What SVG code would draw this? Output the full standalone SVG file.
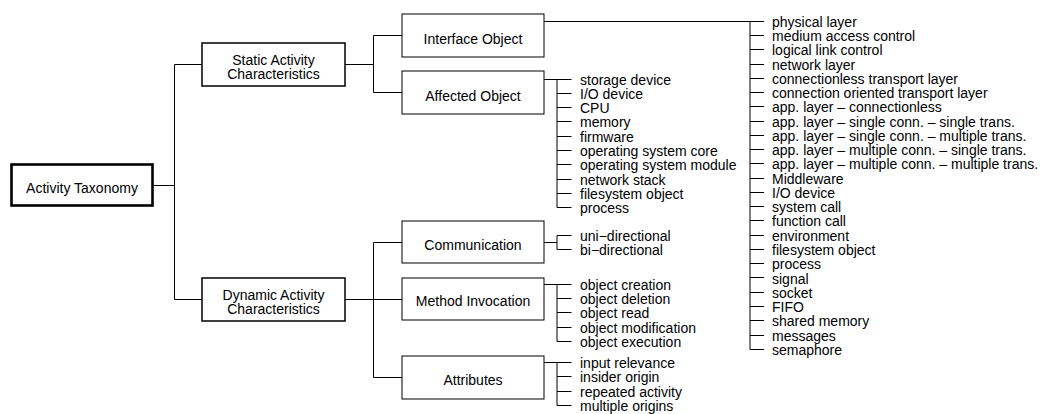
<svg xmlns="http://www.w3.org/2000/svg" width="1040" height="414" viewBox="0 0 1040 414">
  <style>
    text { font-family: "Liberation Sans", Arial, Helvetica, sans-serif; font-size: 14px; fill: #000; }
    .lbl { text-anchor: middle; }
    .root { fill: #fff; stroke: #000; stroke-width: 2.6; }
    .lvl1 { fill: #fff; stroke: #000; stroke-width: 1.5; }
    .lvl2 { fill: #fff; stroke: #000; stroke-width: 1; }
    .wire { fill: none; stroke: #000; stroke-width: 1; }
    .rail { fill: none; stroke: #000; stroke-width: 1; }
  </style>

  <!-- connectors -->
  <g id="connectors">
    <!-- root to first level -->
    <path class="wire" d="M154 185.5H174.5M174.5 64.5V299.5M174.5 64.5H202M174.5 299.5H202"/>
    <!-- static branch -->
    <path class="wire" d="M345 64.5H373.5M373.5 35.5V92.5M373.5 35.5H402M373.5 92.5H402"/>
    <!-- dynamic branch -->
    <path class="wire" d="M345 299.5H373.5M373.5 242.5V377.5M373.5 242.5H402M373.5 299.5H402M373.5 377.5H402"/>

    <!-- interface object list -->
    <path class="wire" d="M544 21.5H764"/>
    <path class="rail" d="M750 21.5V349.5"/>
    <path class="wire" d="M750 35.5H764M750 49.5H764M750 64.5H764M750 78.5H764M750 92.5H764M750 106.5H764M750 121.5H764M750 135.5H764M750 149.5H764M750 163.5H764M750 178.5H764M750 192.5H764M750 206.5H764M750 220.5H764M750 235.5H764M750 249.5H764M750 263.5H764M750 277.5H764M750 292.5H764M750 306.5H764M750 320.5H764M750 335.5H764M750 349.5H764"/>

    <!-- affected object list -->
    <path class="wire" d="M544 79.5H571.5"/>
    <path class="rail" d="M557 79.5V207.5"/>
    <path class="wire" d="M557 93.5H571.5M557 107.5H571.5M557 121.5H571.5M557 136.5H571.5M557 150.5H571.5M557 164.5H571.5M557 179.5H571.5M557 193.5H571.5M557 207.5H571.5"/>

    <!-- communication list -->
    <path class="wire" d="M544 242.5H557"/>
    <path class="rail" d="M557 235.5V249.5"/>
    <path class="wire" d="M557 235.5H571.5M557 249.5H571.5"/>

    <!-- method invocation list -->
    <path class="wire" d="M544 284.5H571.5"/>
    <path class="rail" d="M557 284.5V341.5"/>
    <path class="wire" d="M557 298.5H571.5M557 312.5H571.5M557 327.5H571.5M557 341.5H571.5"/>

    <!-- attributes list -->
    <path class="wire" d="M544 362.5H571.5"/>
    <path class="rail" d="M557 362.5V405.5"/>
    <path class="wire" d="M557 376.5H571.5M557 391.5H571.5M557 405.5H571.5"/>
  </g>

  <!-- root -->
  <g id="activity-taxonomy">
    <rect class="root" x="11.5" y="164.5" width="141" height="41"/>
    <text class="lbl" x="82" y="193">Activity Taxonomy</text>
  </g>

  <!-- first level -->
  <g id="static-activity">
    <rect class="lvl1" x="202" y="43" width="143" height="43"/>
    <text class="lbl" x="273.5" y="65">Static Activity</text>
    <text class="lbl" x="273.5" y="79">Characteristics</text>
  </g>
  <g id="dynamic-activity">
    <rect class="lvl1" x="202" y="278" width="143" height="43"/>
    <text class="lbl" x="273.5" y="299.5">Dynamic Activity</text>
    <text class="lbl" x="273.5" y="313.5">Characteristics</text>
  </g>

  <!-- second level -->
  <g id="interface-object">
    <rect class="lvl2" x="402" y="14" width="142" height="43"/>
    <text class="lbl" x="473" y="43.5">Interface Object</text>
  </g>
  <g id="affected-object">
    <rect class="lvl2" x="402" y="71" width="142" height="43"/>
    <text class="lbl" x="473" y="100.7">Affected Object</text>
  </g>
  <g id="communication">
    <rect class="lvl2" x="402" y="221" width="142" height="42"/>
    <text class="lbl" x="473" y="250">Communication</text>
  </g>
  <g id="method-invocation">
    <rect class="lvl2" x="402" y="278" width="142" height="42"/>
    <text class="lbl" x="473" y="306">Method Invocation</text>
  </g>
  <g id="attributes">
    <rect class="lvl2" x="402" y="356" width="142" height="43"/>
    <text class="lbl" x="473" y="385">Attributes</text>
  </g>

  <!-- leaf lists -->
  <g id="interface-object-items">
    <text x="772" y="26.8">physical layer</text>
    <text x="772" y="41.1">medium access control</text>
    <text x="772" y="55.3">logical link control</text>
    <text x="772" y="69.6">network layer</text>
    <text x="772" y="83.8">connectionless transport layer</text>
    <text x="772" y="98.1">connection oriented transport layer</text>
    <text x="772" y="112.4">app. layer – connectionless</text>
    <text x="772" y="126.6">app. layer – single conn. – single trans.</text>
    <text x="772" y="140.9">app. layer – single conn. – multiple trans.</text>
    <text x="772" y="155.1">app. layer – multiple conn. – single trans.</text>
    <text x="772" y="169.4">app. layer – multiple conn. – multiple trans.</text>
    <text x="772" y="183.7">Middleware</text>
    <text x="772" y="197.9">I/O device</text>
    <text x="772" y="212.2">system call</text>
    <text x="772" y="226.4">function call</text>
    <text x="772" y="240.7">environment</text>
    <text x="772" y="255">filesystem object</text>
    <text x="772" y="269.2">process</text>
    <text x="772" y="283.5">signal</text>
    <text x="772" y="297.7">socket</text>
    <text x="772" y="312">FIFO</text>
    <text x="772" y="326.3">shared memory</text>
    <text x="772" y="340.5">messages</text>
    <text x="772" y="354.8">semaphore</text>
  </g>
  <g id="affected-object-items">
    <text x="580" y="84.5">storage device</text>
    <text x="580" y="98.8">I/O device</text>
    <text x="580" y="113.1">CPU</text>
    <text x="580" y="127.4">memory</text>
    <text x="580" y="141.7">firmware</text>
    <text x="580" y="156">operating system core</text>
    <text x="580" y="170.3">operating system module</text>
    <text x="580" y="184.6">network stack</text>
    <text x="580" y="198.9">filesystem object</text>
    <text x="580" y="213.2">process</text>
  </g>
  <g id="communication-items">
    <text x="580" y="240.5">uni−directional</text>
    <text x="580" y="254.9">bi−directional</text>
  </g>
  <g id="method-invocation-items">
    <text x="580" y="289.8">object creation</text>
    <text x="580" y="304.1">object deletion</text>
    <text x="580" y="318.4">object read</text>
    <text x="580" y="332.7">object modification</text>
    <text x="580" y="347">object execution</text>
  </g>
  <g id="attributes-items">
    <text x="580" y="368">input relevance</text>
    <text x="580" y="382.3">insider origin</text>
    <text x="580" y="396.6">repeated activity</text>
    <text x="580" y="410.9">multiple origins</text>
  </g>
</svg>
